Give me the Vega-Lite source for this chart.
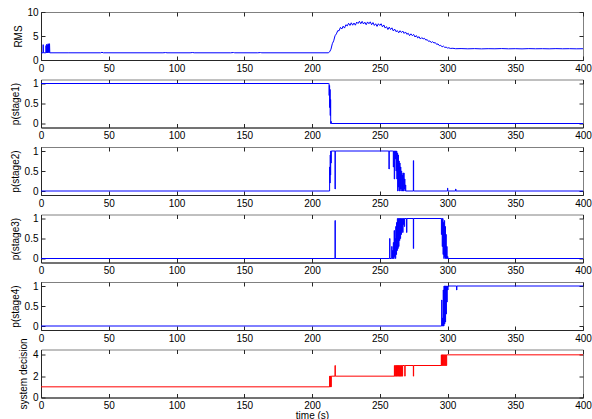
{
"$schema": "https://vega.github.io/schema/vega-lite/v6.json",
"padding": {"left": 10, "top": 6, "right": 0, "bottom": 0},
"bounds": "flush",
"spacing": 19.5,
"config": {
  "view": {"stroke": "#808080", "strokeWidth": 1},
  "axis": {"labelFont": "Liberation Sans", "titleFont": "Liberation Sans", "labelFontSize": 10, "titleFontSize": 10, "titleFontWeight": "normal", "labelColor": "#000000", "titleColor": "#000000", "grid": false, "tickSize": -4, "tickColor": "#262626", "domainColor": "#262626", "labelPadding": 7, "titlePadding": 3.5, "labelFlush": false, "labelOverlap": false}
},
"datasets": {
"rms": [
{"t":0,"v":1.5},{"t":1.5,"v":1.5},{"t":1.6,"v":3.2},{"t":1.8,"v":1.5},{"t":3.6,"v":1.5},{"t":3.7,"v":3.0},{"t":3.9,"v":1.5},{"t":4.2,"v":1.6},{"t":4.3,"v":3.3},{"t":4.5,"v":1.5},{"t":4.8,"v":3.1},{"t":5.0,"v":1.5},{"t":5.3,"v":3.4},{"t":5.5,"v":1.6},{"t":5.8,"v":3.3},{"t":6.0,"v":1.5},{"t":6.3,"v":3.4},{"t":6.5,"v":1.5},{"t":20,"v":1.5},{"t":44,"v":1.5},{"t":45,"v":1.6},{"t":46,"v":1.5},{"t":90,"v":1.5},{"t":92,"v":1.55},{"t":93,"v":1.5},{"t":110,"v":1.5},{"t":112,"v":1.56},{"t":113,"v":1.5},{"t":140,"v":1.5},{"t":142,"v":1.56},{"t":143,"v":1.5},{"t":160,"v":1.5},{"t":162,"v":1.55},{"t":163,"v":1.5},{"t":212,"v":1.5},
{"t":213,"v":1.7},{"t":214,"v":2.25},{"t":215,"v":3.39},{"t":216,"v":3.99},{"t":217,"v":5.05},{"t":218,"v":5.44},{"t":219,"v":6.11},{"t":220,"v":6.1},{"t":221,"v":6.8},{"t":222,"v":6.45},{"t":223,"v":7.05},{"t":224,"v":6.65},{"t":225,"v":7.35},{"t":226,"v":7.1},{"t":227,"v":7.65},{"t":228,"v":7.2},{"t":229,"v":7.75},{"t":230,"v":7.25},{"t":231,"v":7.7},{"t":232,"v":7.25},{"t":233,"v":7.9},{"t":234,"v":7.6},{"t":235,"v":8.07},{"t":236,"v":7.55},{"t":237,"v":8.05},{"t":238,"v":7.5},{"t":239,"v":7.87},{"t":240,"v":7.35},{"t":241,"v":7.93},{"t":242,"v":7.55},{"t":243,"v":7.95},{"t":244,"v":7.35},{"t":245,"v":7.8},{"t":246,"v":7.2},{"t":247,"v":7.55},{"t":248,"v":7.0},{"t":249,"v":7.55},{"t":250,"v":7.2},{"t":251,"v":7.55},{"t":252,"v":6.9},{"t":253,"v":7.3},{"t":254,"v":6.65},{"t":255,"v":6.95},{"t":256,"v":6.35},{"t":257,"v":6.85},{"t":258,"v":6.35},{"t":259,"v":6.7},{"t":260,"v":6.05},{"t":261,"v":6.44},{"t":262,"v":5.9},{"t":263,"v":6.12},{"t":264,"v":5.67},{"t":265,"v":6.1},{"t":266,"v":5.72},{"t":267,"v":6.03},{"t":268,"v":5.54},{"t":269,"v":5.84},{"t":270,"v":5.35},{"t":271,"v":5.57},{"t":272,"v":5.07},{"t":273,"v":5.45},{"t":274,"v":5.07},{"t":275,"v":5.33},{"t":276,"v":4.79},{"t":277,"v":5.09},{"t":278,"v":4.6},{"t":279,"v":4.87},{"t":280,"v":4.37},{"t":281,"v":4.67},{"t":282,"v":4.4},{"t":283,"v":4.52},{"t":284,"v":4.15},{"t":285,"v":4.25},{"t":286,"v":3.88},{"t":287,"v":3.97},{"t":288,"v":3.63},{"t":289,"v":3.82},{"t":290,"v":3.55},{"t":291,"v":3.62},{"t":292,"v":3.25},{"t":293,"v":3.35},{"t":294,"v":2.98},{"t":295,"v":3.07},{"t":296,"v":2.73},{"t":297,"v":2.9},{"t":298,"v":2.62},{"t":299,"v":2.68},{"t":300,"v":2.49},{"t":301,"v":2.55},{"t":302,"v":2.41},{"t":304,"v":2.44},{"t":306,"v":2.35},{"t":310,"v":2.38},{"t":315,"v":2.33},{"t":320,"v":2.37},{"t":325,"v":2.32},{"t":330,"v":2.36},{"t":335,"v":2.34},{"t":340,"v":2.38},{"t":345,"v":2.33},{"t":350,"v":2.36},{"t":355,"v":2.32},{"t":360,"v":2.37},{"t":365,"v":2.34},{"t":370,"v":2.36},{"t":375,"v":2.33},{"t":380,"v":2.37},{"t":385,"v":2.34},{"t":390,"v":2.36},{"t":395,"v":2.33},{"t":400,"v":2.35}
],
"p1": [
{"t":0,"v":1},{"t":212.4,"v":1},{"t":212.6,"v":0.7},{"t":212.8,"v":0.95},{"t":213,"v":0.4},{"t":213.2,"v":0.85},{"t":213.4,"v":0.2},{"t":213.6,"v":0.6},{"t":213.8,"v":0},{"t":214,"v":0.05},{"t":214.2,"v":0},{"t":400,"v":0}
],
"p2": [
{"t":0,"v":0},{"t":212.8,"v":0},{"t":213,"v":0.6},{"t":213.2,"v":0.2},{"t":213.4,"v":0.9},{"t":213.6,"v":0.4},{"t":213.8,"v":1},{"t":214,"v":0.7},{"t":214.2,"v":1},{"t":216.9,"v":1},{"t":217,"v":0.05},{"t":217.2,"v":1},{"t":256.6,"v":1},{"t":256.8,"v":0.55},{"t":257,"v":1},{"t":259.5,"v":1},{"t":260,"v":0.6},{"t":260.3,"v":1},{"t":260.7,"v":0.3},{"t":261,"v":1},{"t":261.4,"v":0.8},{"t":261.7,"v":1},{"t":262,"v":0.5},{"t":262.3,"v":1},{"t":262.6,"v":0.3},{"t":262.9,"v":0.95},{"t":263.2,"v":0},{"t":263.5,"v":0.9},{"t":263.8,"v":0.1},{"t":264.1,"v":0.75},{"t":264.4,"v":0},{"t":264.7,"v":0.7},{"t":265,"v":0.05},{"t":265.3,"v":0.6},{"t":265.6,"v":0},{"t":265.9,"v":0.5},{"t":266.2,"v":0.05},{"t":266.5,"v":0.4},{"t":266.8,"v":0},{"t":267.1,"v":0.45},{"t":267.4,"v":0},{"t":267.7,"v":0.45},{"t":268,"v":0.05},{"t":268.3,"v":0.3},{"t":268.6,"v":0},{"t":268.9,"v":0.15},{"t":269.2,"v":0},{"t":274.6,"v":0},{"t":274.8,"v":0.76},{"t":275,"v":0},{"t":299.8,"v":0},{"t":300,"v":0.07},{"t":300.2,"v":0},{"t":305.8,"v":0},{"t":306,"v":0.05},{"t":306.2,"v":0},{"t":400,"v":0}
],
"p3": [
{"t":0,"v":0},{"t":216.9,"v":0},{"t":217,"v":0.95},{"t":217.2,"v":0},{"t":257.1,"v":0},{"t":257.3,"v":0.5},{"t":257.5,"v":0},{"t":258.5,"v":0},{"t":258.8,"v":0.3},{"t":259.1,"v":0},{"t":259.4,"v":0.2},{"t":259.7,"v":0},{"t":260,"v":0.4},{"t":260.3,"v":0},{"t":260.6,"v":0.7},{"t":260.9,"v":0.05},{"t":261.2,"v":0.5},{"t":261.5,"v":0},{"t":261.8,"v":0.8},{"t":262.1,"v":0.1},{"t":262.4,"v":0.9},{"t":262.7,"v":0.2},{"t":263,"v":1},{"t":263.3,"v":0.25},{"t":263.6,"v":1},{"t":263.9,"v":0.3},{"t":264.2,"v":1},{"t":264.5,"v":0.45},{"t":264.8,"v":1},{"t":265.1,"v":0.5},{"t":265.4,"v":1},{"t":265.7,"v":0.6},{"t":266,"v":1},{"t":266.3,"v":0.7},{"t":266.6,"v":1},{"t":266.9,"v":0.65},{"t":267.2,"v":1},{"t":267.5,"v":0.85},{"t":267.8,"v":1},{"t":268.1,"v":0.8},{"t":268.4,"v":1},{"t":269.6,"v":1},{"t":269.8,"v":0.65},{"t":270,"v":1},{"t":274.6,"v":1},{"t":274.8,"v":0.25},{"t":275,"v":1},{"t":295.2,"v":1},{"t":295.5,"v":0.6},{"t":295.8,"v":1},{"t":296.1,"v":0.3},{"t":296.4,"v":1},{"t":296.7,"v":0.1},{"t":297,"v":0.9},{"t":297.3,"v":0},{"t":297.6,"v":0.95},{"t":297.9,"v":0.05},{"t":298.2,"v":0.8},{"t":298.5,"v":0},{"t":298.8,"v":0.6},{"t":299.1,"v":0},{"t":299.4,"v":0.3},{"t":299.7,"v":0},{"t":300,"v":0.05},{"t":300.3,"v":0},{"t":400,"v":0}
],
"p4": [
{"t":0,"v":0},{"t":295.5,"v":0},{"t":295.7,"v":0.65},{"t":295.9,"v":0},{"t":296.2,"v":0.2},{"t":296.5,"v":0},{"t":296.8,"v":0.9},{"t":297.1,"v":0},{"t":297.4,"v":1},{"t":297.7,"v":0.05},{"t":298,"v":1},{"t":298.3,"v":0.1},{"t":298.6,"v":1},{"t":298.9,"v":0.3},{"t":299.2,"v":1},{"t":299.5,"v":0.6},{"t":299.8,"v":1},{"t":300.1,"v":0.9},{"t":300.4,"v":1},{"t":306.5,"v":1},{"t":306.7,"v":0.9},{"t":306.9,"v":1},{"t":400,"v":1}
],
"dec": [
{"t":0,"v":1},{"t":212.9,"v":1},{"t":213,"v":2},{"t":213.2,"v":1},{"t":213.4,"v":2},{"t":213.6,"v":1},{"t":213.8,"v":2},{"t":214,"v":1},{"t":214.2,"v":2},{"t":216.9,"v":2},{"t":217,"v":3},{"t":217.2,"v":2},{"t":260.6,"v":2},{"t":260.8,"v":3},{"t":261,"v":2},{"t":261.5,"v":3},{"t":261.8,"v":2},{"t":262.1,"v":3},{"t":262.4,"v":2},{"t":262.7,"v":3},{"t":263,"v":2},{"t":263.3,"v":3},{"t":263.6,"v":2},{"t":263.9,"v":3},{"t":264.2,"v":2},{"t":264.5,"v":3},{"t":264.8,"v":2},{"t":265.1,"v":3},{"t":265.4,"v":2},{"t":265.7,"v":3},{"t":266,"v":2},{"t":266.3,"v":3},{"t":266.6,"v":2},{"t":266.9,"v":3},{"t":268.3,"v":3},{"t":268.5,"v":2},{"t":268.7,"v":3},{"t":274.6,"v":3},{"t":274.8,"v":2},{"t":275,"v":3},{"t":295.2,"v":3},{"t":295.4,"v":4},{"t":295.6,"v":3},{"t":296,"v":4},{"t":296.3,"v":3},{"t":296.6,"v":4},{"t":296.9,"v":3},{"t":297.3,"v":4},{"t":297.6,"v":3},{"t":298,"v":4},{"t":298.3,"v":3},{"t":298.7,"v":4},{"t":299,"v":3},{"t":299.4,"v":4},{"t":400,"v":4}
]
},
"vconcat": [
{
 "width": 542, "height": 48, "data": {"name": "rms"},
 "layer": [
  {"mark": {"type": "line", "color": "#0000ff", "strokeWidth": 1},
   "encoding": {
    "x": {"field": "t", "type": "quantitative", "scale": {"domain": [0, 400], "nice": false, "zero": false}, "axis": {"orient": "bottom", "values": [0,50,100,150,200,250,300,350,400], "title": null}},
    "y": {"field": "v", "type": "quantitative", "scale": {"domain": [0, 10], "nice": false}, "axis": {"orient": "left", "values": [0,5,10], "title": "RMS", "format": ".1~f"}}}},
  {"mark": {"type": "line", "strokeOpacity": 0},
   "encoding": {
    "x": {"field": "t", "type": "quantitative", "axis": {"orient": "top", "values": [0,50,100,150,200,250,300,350,400], "labels": false, "domain": false, "title": null}},
    "y": {"field": "v", "type": "quantitative", "axis": {"orient": "right", "values": [0,5,10], "labels": false, "domain": false, "title": null}}}}
 ],
 "resolve": {"axis": {"x": "independent", "y": "independent"}}
},
{
 "width": 542, "height": 48, "data": {"name": "p1"},
 "layer": [
  {"mark": {"type": "line", "color": "#0000ff", "strokeWidth": 1, "interpolate": "step-after"},
   "encoding": {
    "x": {"field": "t", "type": "quantitative", "scale": {"domain": [0, 400], "nice": false, "zero": false}, "axis": {"orient": "bottom", "values": [0,50,100,150,200,250,300,350,400], "title": null}},
    "y": {"field": "v", "type": "quantitative", "scale": {"domain": [-0.1, 1.1], "nice": false, "zero": false}, "axis": {"orient": "left", "values": [0,0.5,1], "title": "p(stage1)", "format": ".1~f"}}}},
  {"mark": {"type": "line", "strokeOpacity": 0},
   "encoding": {
    "x": {"field": "t", "type": "quantitative", "axis": {"orient": "top", "values": [0,50,100,150,200,250,300,350,400], "labels": false, "domain": false, "title": null}},
    "y": {"field": "v", "type": "quantitative", "axis": {"orient": "right", "values": [0,0.5,1], "labels": false, "domain": false, "title": null}}}}
 ],
 "resolve": {"axis": {"x": "independent", "y": "independent"}}
},
{
 "width": 542, "height": 48, "data": {"name": "p2"},
 "layer": [
  {"mark": {"type": "line", "color": "#0000ff", "strokeWidth": 1, "interpolate": "step-after"},
   "encoding": {
    "x": {"field": "t", "type": "quantitative", "scale": {"domain": [0, 400], "nice": false, "zero": false}, "axis": {"orient": "bottom", "values": [0,50,100,150,200,250,300,350,400], "title": null}},
    "y": {"field": "v", "type": "quantitative", "scale": {"domain": [-0.1, 1.1], "nice": false, "zero": false}, "axis": {"orient": "left", "values": [0,0.5,1], "title": "p(stage2)", "format": ".1~f"}}}},
  {"mark": {"type": "line", "strokeOpacity": 0},
   "encoding": {
    "x": {"field": "t", "type": "quantitative", "axis": {"orient": "top", "values": [0,50,100,150,200,250,300,350,400], "labels": false, "domain": false, "title": null}},
    "y": {"field": "v", "type": "quantitative", "axis": {"orient": "right", "values": [0,0.5,1], "labels": false, "domain": false, "title": null}}}}
 ],
 "resolve": {"axis": {"x": "independent", "y": "independent"}}
},
{
 "width": 542, "height": 48, "data": {"name": "p3"},
 "layer": [
  {"mark": {"type": "line", "color": "#0000ff", "strokeWidth": 1, "interpolate": "step-after"},
   "encoding": {
    "x": {"field": "t", "type": "quantitative", "scale": {"domain": [0, 400], "nice": false, "zero": false}, "axis": {"orient": "bottom", "values": [0,50,100,150,200,250,300,350,400], "title": null}},
    "y": {"field": "v", "type": "quantitative", "scale": {"domain": [-0.1, 1.1], "nice": false, "zero": false}, "axis": {"orient": "left", "values": [0,0.5,1], "title": "p(stage3)", "format": ".1~f"}}}},
  {"mark": {"type": "line", "strokeOpacity": 0},
   "encoding": {
    "x": {"field": "t", "type": "quantitative", "axis": {"orient": "top", "values": [0,50,100,150,200,250,300,350,400], "labels": false, "domain": false, "title": null}},
    "y": {"field": "v", "type": "quantitative", "axis": {"orient": "right", "values": [0,0.5,1], "labels": false, "domain": false, "title": null}}}}
 ],
 "resolve": {"axis": {"x": "independent", "y": "independent"}}
},
{
 "width": 542, "height": 48, "data": {"name": "p4"},
 "layer": [
  {"mark": {"type": "line", "color": "#0000ff", "strokeWidth": 1, "interpolate": "step-after"},
   "encoding": {
    "x": {"field": "t", "type": "quantitative", "scale": {"domain": [0, 400], "nice": false, "zero": false}, "axis": {"orient": "bottom", "values": [0,50,100,150,200,250,300,350,400], "title": null}},
    "y": {"field": "v", "type": "quantitative", "scale": {"domain": [-0.1, 1.1], "nice": false, "zero": false}, "axis": {"orient": "left", "values": [0,0.5,1], "title": "p(stage4)", "format": ".1~f"}}}},
  {"mark": {"type": "line", "strokeOpacity": 0},
   "encoding": {
    "x": {"field": "t", "type": "quantitative", "axis": {"orient": "top", "values": [0,50,100,150,200,250,300,350,400], "labels": false, "domain": false, "title": null}},
    "y": {"field": "v", "type": "quantitative", "axis": {"orient": "right", "values": [0,0.5,1], "labels": false, "domain": false, "title": null}}}}
 ],
 "resolve": {"axis": {"x": "independent", "y": "independent"}}
},
{
 "width": 542, "height": 48, "data": {"name": "dec"},
 "layer": [
  {"mark": {"type": "line", "color": "#ff0000", "strokeWidth": 1, "interpolate": "step-after"},
   "encoding": {
    "x": {"field": "t", "type": "quantitative", "scale": {"domain": [0, 400], "nice": false, "zero": false}, "axis": {"orient": "bottom", "values": [0,50,100,150,200,250,300,350,400], "title": "time (s)", "titlePadding": -0.5}},
    "y": {"field": "v", "type": "quantitative", "scale": {"domain": [0, 4.5], "nice": false}, "axis": {"orient": "left", "values": [0,2,4], "title": "system decision", "format": ".1~f"}}}},
  {"mark": {"type": "line", "strokeOpacity": 0},
   "encoding": {
    "x": {"field": "t", "type": "quantitative", "axis": {"orient": "top", "values": [0,50,100,150,200,250,300,350,400], "labels": false, "domain": false, "title": null}},
    "y": {"field": "v", "type": "quantitative", "axis": {"orient": "right", "values": [0,2,4], "labels": false, "domain": false, "title": null}}}}
 ],
 "resolve": {"axis": {"x": "independent", "y": "independent"}}
}
]
}
